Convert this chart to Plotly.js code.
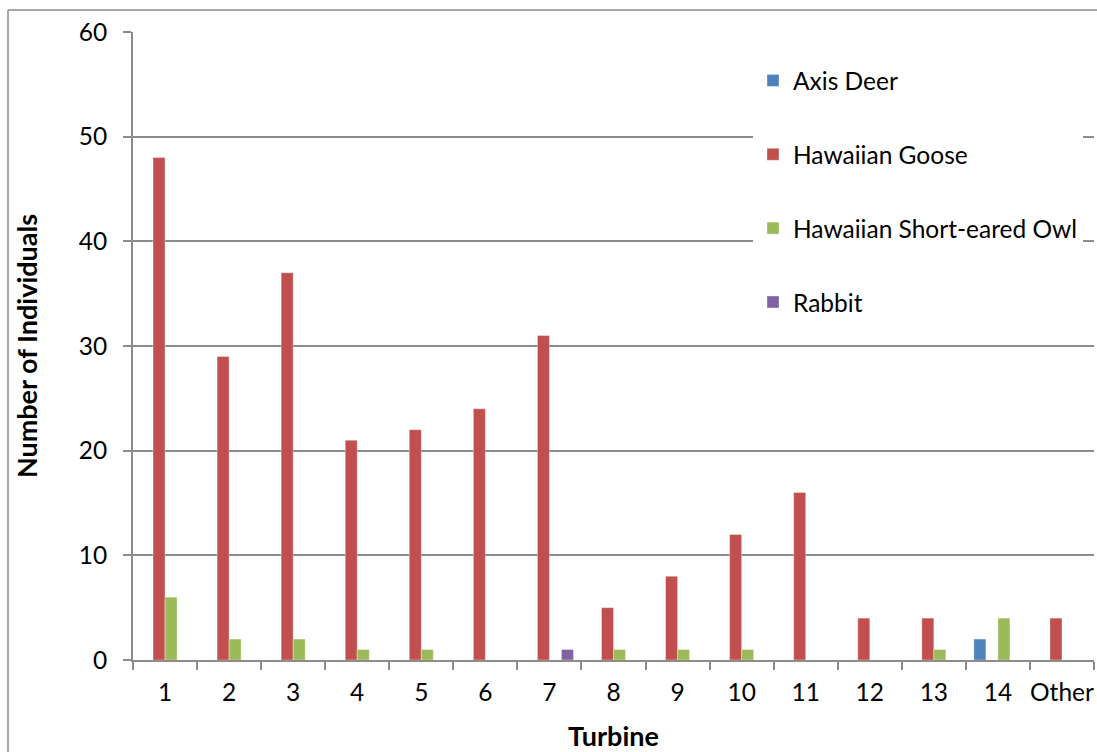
<!DOCTYPE html>
<html>
<head>
<meta charset="utf-8">
<script src="https://cdn.plot.ly/plotly-3.0.1.min.js"></script>
<style>
  html, body { margin: 0; padding: 0; background: #ffffff; }
  #chart { width: 1097px; height: 752px; }
</style>
</head>
<body>
<div id="chart"></div>
<script>
// Turbine-level counts of individuals by species
const turbines = ['1', '2', '3', '4', '5', '6', '7', '8', '9', '10', '11', '12', '13', '14', 'Other'];
const axisDeer = [0, 0, 0, 0, 0, 0, 0, 0, 0, 0, 0, 0, 0, 2, 0];
const hawaiianGoose = [48, 29, 37, 21, 22, 24, 31, 5, 8, 12, 16, 4, 4, 0, 4];
const shortEaredOwl = [6, 2, 2, 1, 1, 0, 0, 1, 1, 1, 0, 0, 1, 4, 0];
const rabbit = [0, 0, 0, 0, 0, 0, 1, 0, 0, 0, 0, 0, 0, 0, 0];

const seriesNames = ['Axis Deer', 'Hawaiian Goose', 'Hawaiian Short-eared Owl', 'Rabbit'];
const seriesValues = [axisDeer, hawaiianGoose, shortEaredOwl, rabbit];
const seriesColors = ['#4F81BD', '#C0504D', '#9BBB59', '#8064A2'];

const FONT = 'Lato, "Open Sans", sans-serif';
const GRID = '#8c8c8c';
const FS = 24.5;      // regular text size
const FS_TITLE = 27;  // bold axis titles

const traces = seriesNames.map((name, i) => ({
  type: 'bar',
  name: name,
  x: turbines,
  y: seriesValues[i],
  legendgroup: 'g' + i,
  marker: { color: seriesColors[i], line: { color: 'rgba(255,255,255,0.35)', width: 1 } },
  hoverinfo: 'x+y+name'
}));

// plot area geometry (for the outer frame lines)
const W = 1097, H = 752;
const M = { l: 133, r: 3, t: 32, b: 92 };
const pw = W - M.l - M.r, ph = H - M.t - M.b;
const px = v => (v - M.l) / pw;
const py = v => (H - M.b - v) / ph;

const layout = {
  width: W,
  height: H,
  margin: M,
  paper_bgcolor: '#ffffff',
  plot_bgcolor: '#ffffff',
  barmode: 'group',
  bargap: 0.25,
  bargroupgap: 0,
  font: { family: FONT, size: FS, color: '#000000' },
  xaxis: {
    type: 'category',
    tickson: 'boundaries',
    tickangle: 0,
    ticks: 'outside',
    ticklen: 8,
    tickwidth: 2,
    tickcolor: GRID,
    showline: true,
    linecolor: GRID,
    linewidth: 2,
    showgrid: false,
    automargin: false,
    ticklabelstandoff: 10,
    tickfont: { family: FONT, size: FS },
    title: { text: '<b>Turbine</b>', font: { family: FONT, size: FS_TITLE }, standoff: 22 }
  },
  yaxis: {
    range: [0, 60],
    dtick: 10,
    ticks: 'outside',
    ticklen: 8,
    tickwidth: 2,
    tickcolor: GRID,
    showline: true,
    linecolor: GRID,
    linewidth: 2,
    showgrid: true,
    gridcolor: GRID,
    gridwidth: 2,
    zeroline: false,
    automargin: false,
    ticklabelstandoff: 11,
    tickfont: { family: FONT, size: FS },
    title: { text: '<b>Number of Individuals</b>', font: { family: FONT, size: FS_TITLE }, standoff: 33 }
  },
  legend: {
    x: px(753),
    y: py(58),
    xanchor: 'left',
    yanchor: 'top',
    bgcolor: '#ffffff',
    borderwidth: 0,
    traceorder: 'grouped',
    tracegroupgap: 39,
    font: { family: FONT, size: FS },
    itemclick: false
  },
  shapes: [
    { type: 'line', xref: 'paper', yref: 'paper', x0: px(8), x1: px(W + 5), y0: py(10), y1: py(10),
      line: { color: '#8a8a8a', width: 1.5 } },
    { type: 'line', xref: 'paper', yref: 'paper', x0: px(8), x1: px(8), y0: py(10), y1: py(H + 5),
      line: { color: '#8a8a8a', width: 1.5 } }
  ],
  showlegend: true
};

Plotly.newPlot('chart', traces, layout, { displayModeBar: false, responsive: false });
</script>
</body>
</html>
